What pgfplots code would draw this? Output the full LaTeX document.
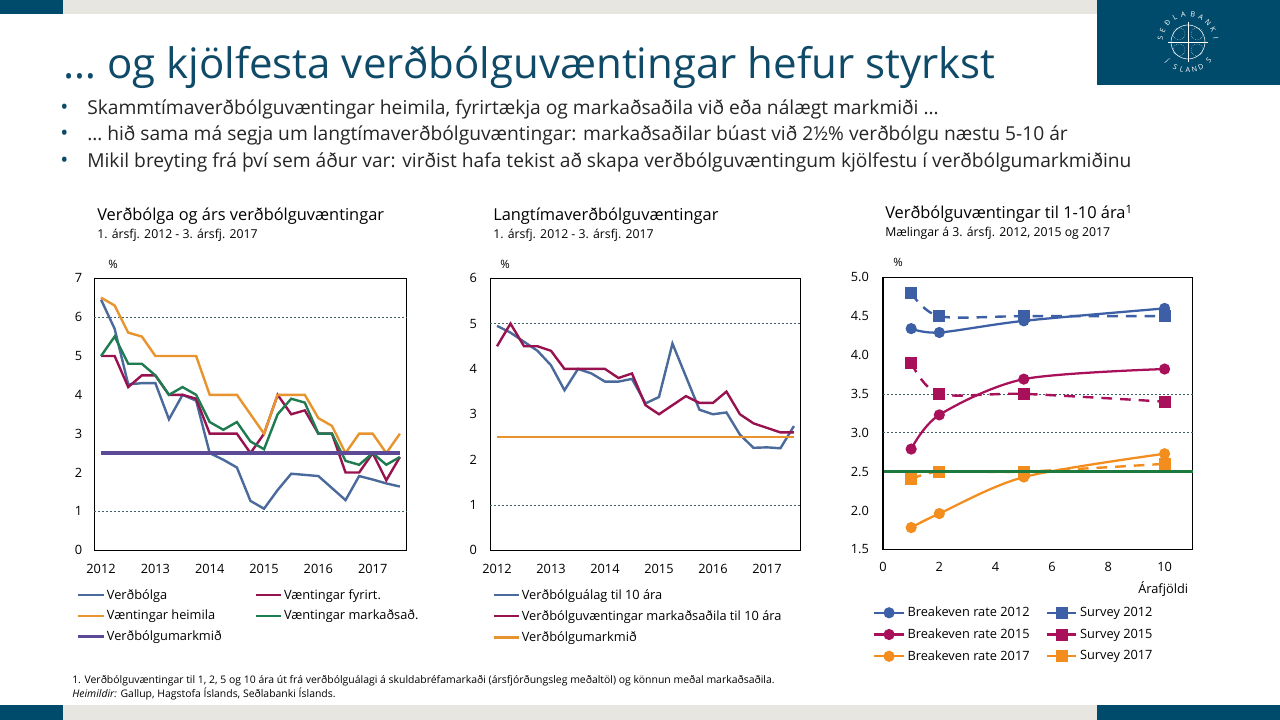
\documentclass[border=0pt]{standalone}
\usepackage{fontspec}
\setmainfont{Open Sans}
\usepackage{pgfplots}
\pgfplotsset{compat=1.18}
\usepackage{pgfplotstable}
\definecolor{teal1}{HTML}{004A6B}
\definecolor{gray1}{HTML}{E8E6E1}
\definecolor{titleblue}{HTML}{0F4A68}
\definecolor{cblue}{HTML}{4A6A9C}
\definecolor{cred}{HTML}{98124F}
\definecolor{corange}{HTML}{E8942E}
\definecolor{cgreen}{HTML}{1F7B50}
\definecolor{cpurple}{HTML}{5C4A96}
\definecolor{dblue}{HTML}{3D5FA6}
\definecolor{dred}{HTML}{A8105A}
\definecolor{dorange}{HTML}{F28D1E}
\definecolor{dgreen}{HTML}{1D7A3E}
\definecolor{gridc}{HTML}{3F5F65}
\pgfplotstableread{
i infl fyr heim mark target
0 6.45 5.0 6.5 5.0 2.5
1 5.70 5.0 6.3 5.5 2.5
2 4.27 4.2 5.6 4.8 2.5
3 4.30 4.5 5.5 4.8 2.5
4 4.30 4.5 5.0 4.5 2.5
5 3.37 4.0 5.0 4.0 2.5
6 4.00 4.0 5.0 4.2 2.5
7 3.85 3.9 5.0 4.0 2.5
8 2.50 3.0 4.0 3.3 2.5
9 2.33 3.0 4.0 3.1 2.5
10 2.13 3.0 4.0 3.3 2.5
11 1.27 2.5 3.5 2.8 2.5
12 1.07 3.0 3.0 2.6 2.5
13 1.55 4.0 4.0 3.5 2.5
14 1.97 3.5 4.0 3.9 2.5
15 1.94 3.6 4.0 3.8 2.5
16 1.91 3.0 3.4 3.0 2.5
17 1.60 3.0 3.2 3.0 2.5
18 1.29 2.0 2.5 2.3 2.5
19 1.91 2.0 3.0 2.2 2.5
20 1.82 2.5 3.0 2.5 2.5
21 1.72 1.8 2.5 2.2 2.5
22 1.64 2.4 3.0 2.4 2.5
}\tableA
\pgfplotstableread{
i bond surv target
0 4.95 4.5 2.5
1 4.80 5.0 2.5
2 4.60 4.5 2.5
3 4.40 4.5 2.5
4 4.08 4.4 2.5
5 3.53 4.0 2.5
6 4.00 4.0 2.5
7 3.90 4.0 2.5
8 3.72 4.0 2.5
9 3.72 3.8 2.5
10 3.78 3.9 2.5
11 3.24 3.2 2.5
12 3.38 3.0 2.5
13 4.56 3.2 2.5
14 3.83 3.4 2.5
15 3.10 3.25 2.5
16 3.00 3.25 2.5
17 3.04 3.5 2.5
18 2.55 3.0 2.5
19 2.26 2.8 2.5
20 2.27 2.7 2.5
21 2.25 2.6 2.5
22 2.74 2.6 2.5
}\tableB
\pgfplotstableread{
yr b12 s12 b15 s15 b17 s17
1 4.34 4.8 2.79 3.9 1.78 2.4
2 4.29 4.5 3.23 3.5 1.96 2.5
5 4.44 4.5 3.69 3.5 2.43 2.5
10 4.60 4.5 3.82 3.4 2.73 2.6
}\tableC
\newcommand\lab{\fontsize{9.6pt}{11pt}\selectfont}
\pgfplotsset{
  chart/.style={
    scale only axis, anchor=south west, axis line style={line width=0.9pt},
    major tick length=0pt,
    tick label style={font=\lab, /pgf/number format/assume math mode=true},
    extra y tick labels={},
    extra y tick style={grid=major, major grid style={gridc, line width=0.45pt, dash pattern=on 1.5pt off 1.5pt}},
    legend cell align=left,
    clip mode=individual,
  },
  linelegend/.style={legend image code/.code={\draw[##1] plot coordinates {(0cm,0cm) (#1,0cm)};}},
}
\begin{document}
\begin{tikzpicture}
\begin{scope}[x=.75pt,y=-.75pt,yshift=540pt]
\fill[white] (0,0) rectangle (1280,720);
\fill[teal1] (0,0) rectangle (63,14);
\fill[gray1] (63,0) rectangle (1097,14);
\fill[teal1] (1097,0) rectangle (1280,85);
\fill[teal1] (0,705) rectangle (63,720);
\fill[gray1] (63,705) rectangle (1097,720);
\fill[teal1] (1097,705) rectangle (1280,720);
% logo
\begin{scope}[shift={(1188,42)}]
\draw[white,line width=.4pt] (0,0) circle (17);
\draw[white,line width=.4pt] (-20,0) -- (20,0) (0,-20) -- (0,20);
\draw[white,line width=.35pt,densely dotted] (-9,-8) circle (6) (9,-8) circle (6) (-9,8) circle (6) (9,8) circle (6);
\foreach \c/\a in {S/172,E/155,Ð/137,L/118,A/100,B/80,A/62,N/44,K/26,I/8,Í/222,S/243,L/257,A/270,N/283,D/297,S/318}{
  \pgfmathsetmacro\rr{\a>180?(\a-270):(\a-90)}
  \node[white,inner sep=0,font=\fontsize{5.4pt}{6pt}\selectfont,rotate=\rr] at ({28*cos(\a)},{-28*sin(\a)}) {\c};
}
\end{scope}
% title
\node[anchor=base west,inner sep=0,text=titleblue,font=\fontsize{31.5pt}{34pt}\selectfont] at (63,79) {… og kjölfesta verðbólguvæntingar hefur styrkst};
\foreach \y/\t in {115/{Skammtímaverðbólguvæntingar heimila, fyrirtækja og markaðsaðila við eða nálægt markmiði …},141/{… hið sama má segja um langtímaverðbólguvæntingar: markaðsaðilar búast við 2½\% verðbólgu næstu 5-10 ár},168/{Mikil breyting frá því sem áður var: virðist hafa tekist að skapa verðbólguvæntingum kjölfestu í verðbólgumarkmiðinu}}{
  \node[anchor=base west,inner sep=0,text=titleblue] at (60,\y) {\fontsize{16pt}{15pt}\selectfont •};
  \node[anchor=base west,inner sep=0,text=black!85,font=\fontsize{14.4pt}{15pt}\selectfont] at (87,\y) {\t};
}
% panel titles
\def\pt#1#2#3#4#5{\node[anchor=base west,inner sep=0,font=\fontsize{12.3pt}{13pt}\selectfont] at (#1,#2) {#3};
 \node[anchor=base west,inner sep=0,font=\fontsize{9.2pt}{11pt}\selectfont] at (#1,#2+18) {#4};
 \node[anchor=base west,inner sep=0,font=\fontsize{8.6pt}{10pt}\selectfont] at (#5,#2+48) {\%};}
\pt{97}{221}{Verðbólga og árs verðbólguvæntingar}{1. ársfj. 2012 - 3. ársfj. 2017}{108}
\pt{493}{221}{Langtímaverðbólguvæntingar}{1. ársfj. 2012 - 3. ársfj. 2017}{500}
\pt{885}{219}{Verðbólguvæntingar til 1-10 ára\textsuperscript{1}}{Mælingar á 3. ársfj. 2012, 2015 og 2017}{893}
\node[anchor=base west,inner sep=0,font=\fontsize{9.6pt}{10pt}\selectfont] at (1138,594) {Árafjöldi};
\node[anchor=base west,inner sep=0,font=\fontsize{7.83pt}{10pt}\selectfont] at (72,684) {1. Verðbólguvæntingar til 1, 2, 5 og 10 ára út frá verðbólguálagi á skuldabréfamarkaði (ársfjórðungsleg meðaltöl) og könnun meðal markaðsaðila.};
\node[anchor=base west,inner sep=0,font=\fontsize{7.83pt}{10pt}\selectfont] at (72,698) {\textit{Heimildir:} Gallup, Hagstofa Íslands, Seðlabanki Íslands.};
\end{scope}
% chart 1
\begin{axis}[chart, at={(70.7pt,127.3pt)}, width=234.3pt, height=204pt,
  xmin=-0.5, xmax=22.5, ymin=0, ymax=7,
  xtick={0,4,8,12,16,20}, xticklabels={2012,2013,2014,2015,2016,2017},
  ytick={0,...,7}, extra y ticks={1,6},
  xticklabel style={yshift=-7pt}, yticklabel style={xshift=-5.5pt},
  linelegend=19pt,
  legend columns=2,
  legend style={at={(-13.5pt,-27pt)},anchor=north west,draw=none,fill=none,inner sep=0pt,font=\lab,
    nodes={inner xsep=1.2pt},
    /tikz/every even column/.append style={column sep=23.5pt},row sep=2.7pt}]
\addplot[cblue,line width=1.8pt] table[x=i,y=infl]{\tableA};
\addlegendentry{Verðbólga}
\addplot[cred,line width=1.8pt] table[x=i,y=fyr]{\tableA};
\addlegendentry{Væntingar fyrirt.}
\addplot[corange,line width=1.8pt] table[x=i,y=heim]{\tableA};
\addlegendentry{Væntingar heimila}
\addplot[cgreen,line width=1.8pt] table[x=i,y=mark]{\tableA};
\addlegendentry{Væntingar markaðsað.}
\addplot[cpurple,line width=2.6pt] table[x=i,y=target]{\tableA};
\addlegendentry{Verðbólgumarkmið}
\end{axis}
% chart 2
\begin{axis}[chart, at={(367.7pt,127.3pt)}, width=232.8pt, height=204pt,
  xmin=-0.5, xmax=22.5, ymin=0, ymax=6,
  xtick={0,4,8,12,16,20}, xticklabels={2012,2013,2014,2015,2016,2017},
  ytick={0,...,6}, extra y ticks={1,5},
  xticklabel style={yshift=-7pt}, yticklabel style={xshift=-6.5pt},
  linelegend=19pt,
  legend style={at={(1.5pt,-27pt)},anchor=north west,draw=none,fill=none,inner sep=0pt,font=\lab,
    nodes={inner xsep=1.2pt},row sep=3pt}]
\addplot[cblue,line width=1.8pt] table[x=i,y=bond]{\tableB};
\addlegendentry{Verðbólguálag til 10 ára}
\addplot[cred,line width=1.8pt] table[x=i,y=surv]{\tableB};
\addlegendentry{Verðbólguvæntingar markaðsaðila til 10 ára}
\addplot[corange,line width=1.8pt] table[x=i,y=target]{\tableB};
\addlegendentry{Verðbólgumarkmið}
\end{axis}
% chart 3
\begin{axis}[chart, at={(662.25pt,128pt)}, width=232.3pt, height=204pt,
  xmin=0, xmax=11, ymin=1.5, ymax=5,
  xtick={0,2,4,6,8,10}, ytick={1.5,2,...,5}, extra y ticks={3,3.5},
  yticklabel style={xshift=-7pt,/pgf/number format/fixed,/pgf/number format/fixed zerofill,/pgf/number format/precision=1},
  xticklabel style={yshift=-6pt},
  legend columns=2,
  legend image code/.code={\draw[mark repeat=2,mark phase=2,#1] plot coordinates {(0cm,0cm) (11pt,0cm) (22pt,0cm)};},
  legend style={at={(-7.5pt,-41pt)},anchor=north west,draw=none,fill=none,inner sep=0pt,font=\lab,
    /tikz/every even column/.append style={column sep=10pt},row sep=3.5pt}]
\addplot[dblue,line width=1.7pt,smooth,mark=*,mark size=3.3pt,mark options={solid}] table[x=yr,y=b12]{\tableC};
\addlegendentry{Breakeven rate 2012}
\addplot[dblue,line width=1.8pt,smooth,dash pattern=on 8pt off 6pt,mark=square*,mark size=3.6pt,mark options={solid}] table[x=yr,y=s12]{\tableC};
\addlegendentry{Survey 2012}
\addplot[dred,line width=1.7pt,smooth,mark=*,mark size=3.3pt,mark options={solid}] table[x=yr,y=b15]{\tableC};
\addlegendentry{Breakeven rate 2015}
\addplot[dred,line width=1.8pt,smooth,dash pattern=on 8pt off 6pt,mark=square*,mark size=3.6pt,mark options={solid}] table[x=yr,y=s15]{\tableC};
\addlegendentry{Survey 2015}
\addplot[dorange,line width=1.7pt,smooth,mark=*,mark size=3.3pt,mark options={solid}] table[x=yr,y=b17]{\tableC};
\addlegendentry{Breakeven rate 2017}
\addplot[dorange,line width=1.8pt,smooth,dash pattern=on 8pt off 6pt,mark=square*,mark size=3.6pt,mark options={solid}] table[x=yr,y=s17]{\tableC};
\addlegendentry{Survey 2017}
\addplot[dgreen,line width=2.4pt,forget plot] coordinates {(0.05,2.5) (11.1,2.5)};
\end{axis}
\end{tikzpicture}
\end{document}
